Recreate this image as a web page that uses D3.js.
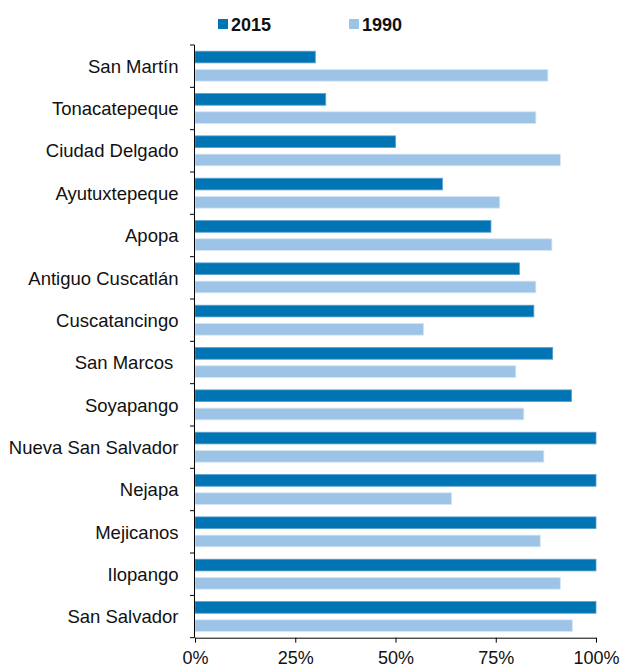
<!DOCTYPE html>
<html>
<head>
<meta charset="utf-8">
<script src="https://cdn.jsdelivr.net/npm/d3@7"></script>
<style>
  body { margin: 0; background: #fff; }
  svg { display: block; font-family: "Liberation Sans", Arial, sans-serif; }
</style>
</head>
<body>
<svg width="621" height="669"></svg>
<script>
// Data
var categories = ["San Martín", "Tonacatepeque", "Ciudad Delgado", "Ayutuxtepeque", "Apopa",
    "Antiguo Cuscatlán", "Cuscatancingo", "San Marcos ", "Soyapango", "Nueva San Salvador",
    "Nejapa", "Mejicanos", "Ilopango", "San Salvador"];
var values2015 = [30, 32.6, 50, 61.7, 73.8, 80.9, 84.5, 89.2, 93.9, 100, 100, 100, 100, 100];
var values1990 = [88, 85, 91.1, 76, 89, 85, 57, 80, 82, 87, 64, 86.1, 91.1, 94.1];
var seriesNames = ["2015", "1990"];
var xTicks = [0, 25, 50, 75, 100];

var colors = { "2015": "#0174b3", "1990": "#9dc3e6" };
var strokes = { "2015": "#5a9fd0", "1990": "#d6e6f5" };

var plotLeft = 195, plotRight = 596, plotTop = 45, plotBottom = 637.7;

var svg = d3.select("svg");

var rows = categories.map(function(c, i) {
    return { name: c, "2015": values2015[i], "1990": values1990[i] };
});

// Scales
var xscale = d3.scaleLinear().domain([0, 100]).range([plotLeft, plotRight]);
var yscale = d3.scaleBand().domain(categories).range([plotTop, plotBottom]).padding(0);
var sub = d3.scaleBand().domain(seriesNames).range([0, yscale.bandwidth()])
    .paddingInner(0.36).paddingOuter(0.34);

// Bars
var groups = svg.append("g")
    .selectAll("g")
    .data(rows)
    .enter().append("g")
    .attr("transform", function(d) { return "translate(0," + yscale(d.name) + ")"; });

groups.selectAll("rect")
    .data(function(d) { return seriesNames.map(function(k) { return { key: k, value: d[k] }; }); })
    .enter().append("rect")
    .attr("x", xscale(0))
    .attr("y", function(d) { return sub(d.key); })
    .attr("width", function(d) { return xscale(d.value) - xscale(0); })
    .attr("height", sub.bandwidth())
    .attr("fill", function(d) { return colors[d.key]; })
    .attr("stroke", function(d) { return strokes[d.key]; })
    .attr("stroke-width", 0.8);

// Left axis: tick marks at band boundaries
var leftAxis = svg.append("g");
leftAxis.append("line")
    .attr("x1", plotLeft - 0.5).attr("x2", plotLeft - 0.5)
    .attr("y1", plotTop).attr("y2", plotBottom)
    .attr("stroke", "#000").attr("stroke-width", 1);
leftAxis.selectAll("line.tick")
    .data(categories.concat([null]))
    .enter().append("line")
    .attr("class", "tick")
    .attr("x1", plotLeft - 5).attr("x2", plotLeft - 0.5)
    .attr("y1", function(d, i) { return i < categories.length ? yscale(d) : plotBottom; })
    .attr("y2", function(d, i) { return i < categories.length ? yscale(d) : plotBottom; })
    .attr("stroke", "#000").attr("stroke-width", 1);

leftAxis.selectAll("text")
    .data(categories)
    .enter().append("text")
    .attr("x", 178.5)
    .attr("y", function(d) { return yscale(d) + yscale.bandwidth() / 2; })
    .attr("dy", "0.36em")
    .attr("text-anchor", "end")
    .attr("font-size", 18.5)
    .attr("fill", "#111")
    .style("white-space", "pre")
    .text(function(d) { return d; });

// Bottom axis
var xAxis = d3.axisBottom(xscale)
    .tickValues(xTicks)
    .tickSize(5)
    .tickSizeOuter(0)
    .tickPadding(9)
    .tickFormat(function(d) { return d + "%"; });

svg.append("g")
    .attr("transform", "translate(0," + plotBottom + ")")
    .call(xAxis)
    .call(function(g) {
        g.select(".domain").attr("stroke", "#000");
        g.selectAll(".tick line").attr("stroke", "#000");
        g.selectAll(".tick text")
            .attr("font-size", 18)
            .attr("font-family", "'Liberation Sans', Arial, sans-serif")
            .attr("fill", "#111");
    });

// Legend
var legend = svg.append("g")
    .selectAll("g")
    .data(seriesNames)
    .enter().append("g")
    .attr("transform", function(d, i) { return "translate(" + (218 + i * 131) + ",19)"; });

legend.append("rect")
    .attr("width", 10)
    .attr("height", 10)
    .attr("fill", function(d) { return colors[d]; });

legend.append("text")
    .attr("x", 13)
    .attr("y", 11.5)
    .attr("font-size", 18)
    .attr("font-weight", "bold")
    .attr("fill", "#111")
    .text(function(d) { return d; });
</script>
</body>
</html>
